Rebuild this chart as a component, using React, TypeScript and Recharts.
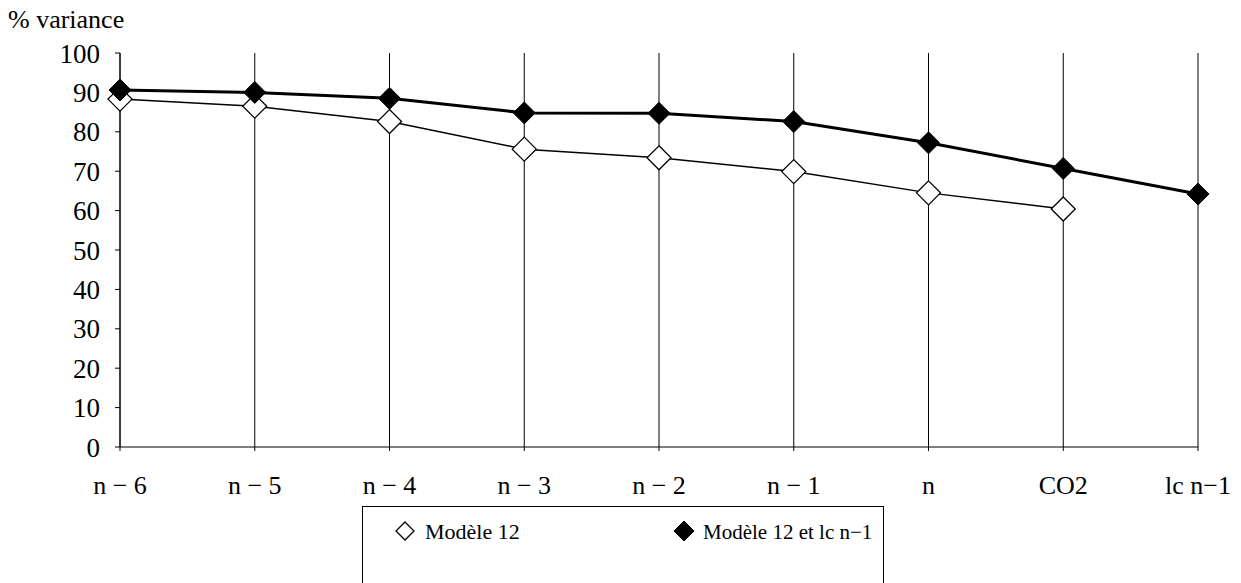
import React from 'react';
import { LineChart, Line, XAxis, YAxis, CartesianGrid } from 'recharts';

const categories = ['n − 6', 'n − 5', 'n − 4', 'n − 3', 'n − 2', 'n − 1', 'n', 'CO2', 'lc n−1'];
const modele12 = [88.3, 86.5, 82.6, 75.6, 73.4, 69.9, 64.5, 60.4, null];
const modele12lc = [90.6, 90.0, 88.5, 84.8, 84.7, 82.6, 77.2, 70.7, 64.2];
const yTicks = [0, 10, 20, 30, 40, 50, 60, 70, 80, 90, 100];
const legendLabels = ['Modèle 12', 'Modèle 12 et lc n−1'];

const data = categories.map((c, i) => ({ cat: c, m12: modele12[i], m12lc: modele12lc[i] }));

const FONT = 'Liberation Serif, Times New Roman, serif';

const Diamond = (fill: string, half: number, sw: number) => (props: any) => {
  const { cx, cy, index } = props;
  if (cx == null || cy == null || props.value == null) return <g key={`d-${index}`} />;
  return (
    <polygon
      key={`d-${fill}-${index}`}
      points={`${cx},${cy - half} ${cx + half},${cy} ${cx},${cy + half} ${cx - half},${cy}`}
      fill={fill}
      stroke="#000"
      strokeWidth={sw}
    />
  );
};

export default function App() {
  return (
    <div style={{ position: 'absolute', left: 0, top: 0, width: 1241, height: 583, background: '#fff', overflow: 'hidden' }}>
      <div style={{ position: 'absolute', left: 8, top: 5, fontFamily: FONT, fontSize: 26, lineHeight: '30px', color: '#000' }}>
        % variance
      </div>
      <LineChart
        width={1241}
        height={583}
        data={data}
        margin={{ top: 53, right: 43, bottom: 86, left: 0 }}
      >
        <CartesianGrid horizontal={false} vertical stroke="#000" strokeWidth={1} />
        <XAxis
          dataKey="cat"
          stroke="#000"
          tickSize={4}
          tickMargin={25}
          tick={{ fill: '#000', fontFamily: FONT, fontSize: 26 }}
          tickLine={{ stroke: '#000' }}
          height={50}
        />
        <YAxis
          domain={[0, 100]}
          ticks={yTicks}
          width={120}
          stroke="#000"
          tickSize={5}
          tickMargin={15}
          interval={0}
          tick={{ fill: '#000', fontFamily: FONT, fontSize: 27 }}
          tickLine={{ stroke: '#000' }}
        />
        <Line
          dataKey="m12"
          name={legendLabels[0]}
          stroke="#000"
          strokeWidth={1.5}
          dot={Diamond('#fff', 12, 1.3)}
          activeDot={false}
          connectNulls={false}
          isAnimationActive={false}
        />
        <Line
          dataKey="m12lc"
          name={legendLabels[1]}
          stroke="#000"
          strokeWidth={3}
          dot={Diamond('#000', 11, 1)}
          activeDot={false}
          isAnimationActive={false}
        />
      </LineChart>
      <div
        style={{
          position: 'absolute',
          left: 362,
          top: 506,
          width: 522,
          height: 100,
          border: '1px solid #000',
          boxSizing: 'border-box',
          background: '#fff',
        }}
      >
        <svg width={520} height={60} style={{ position: 'absolute', left: 0, top: 0 }}>
          <polygon points="42,15 51,24 42,33 33,24" fill="#fff" stroke="#000" strokeWidth={1.3} />
          <text x={62} y={32} fontFamily={FONT} fontSize={22} fill="#000">{legendLabels[0]}</text>
          <polygon points="321,14 331,24 321,34 311,24" fill="#000" stroke="#000" strokeWidth={1} />
          <text x={340} y={32} fontFamily={FONT} fontSize={21} fill="#000">{legendLabels[1]}</text>
        </svg>
      </div>
    </div>
  );
}
